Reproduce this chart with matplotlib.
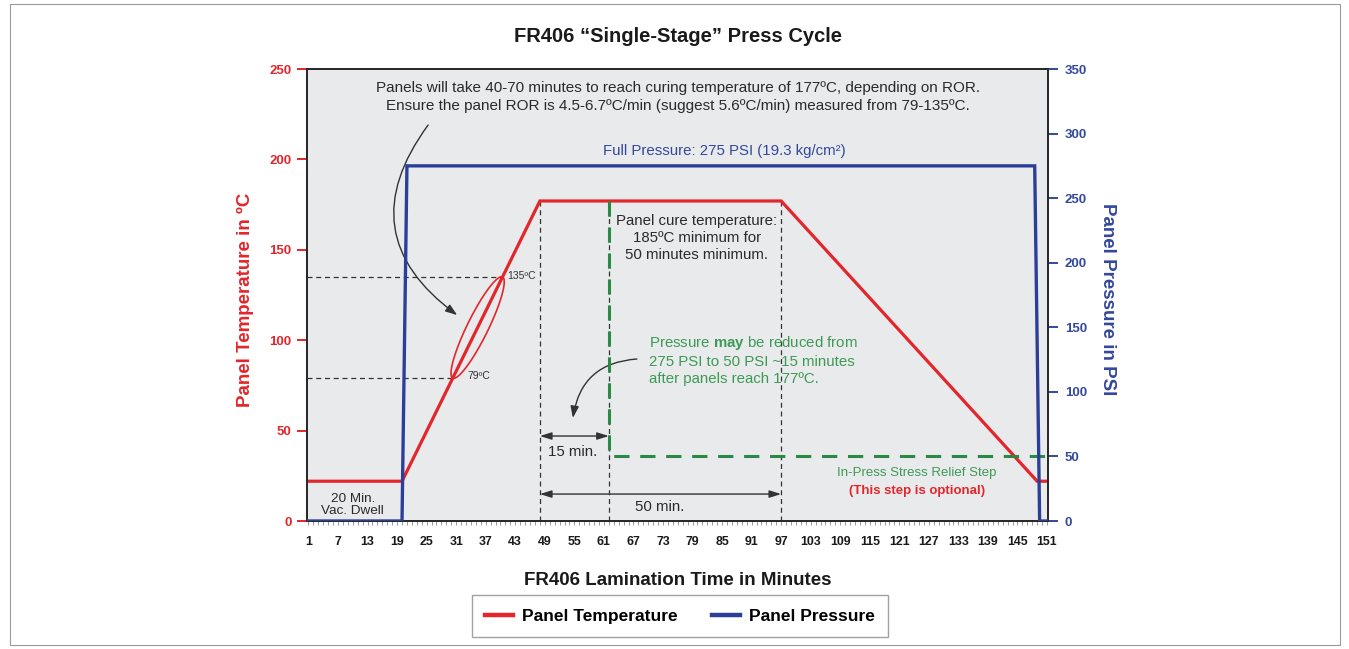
import numpy as np
import matplotlib
matplotlib.use("Agg")
import matplotlib.pyplot as plt
from matplotlib.patches import Rectangle
from matplotlib.lines import Line2D

plt.rcParams['font.family'] = ['Liberation Sans', 'DejaVu Sans']
plt.rcParams['mathtext.fontset'] = 'custom'
plt.rcParams['mathtext.rm'] = 'Liberation Sans'
plt.rcParams['mathtext.bf'] = 'Liberation Sans:bold'

# ---- data ----
temp_minutes = [1, 20, 48, 97, 149, 151]
temp_values = [22, 22, 177, 177, 22, 22]
press_minutes = [1, 20, 21, 148.5, 149.5, 151]
press_values = [0, 0, 275, 275, 0, 0]
reduced_minutes = [62, 62, 151]
reduced_values = [248, 50, 50]
xtick_values = list(range(1, 152, 6))
temp_ticks = [0, 50, 100, 150, 200, 250]
press_ticks = [0, 50, 100, 150, 200, 250, 300, 350]
ror_low, ror_high = 79, 135
cure_start, reduce_at, cure_end = 48, 62, 97

RED = '#e3262b'
BLUE = '#2b3f98'
BLUE_T = '#34489c'
GREEN = '#2a8a43'
GREEN_T = '#3d9a55'
DARK = '#333333'

fig = plt.figure(figsize=(13.49, 6.49), dpi=100)
fig.patches.append(Rectangle((10/1349, 4/649), 1330/1349, 641/649, transform=fig.transFigure,
                             fill=False, edgecolor='#9a9a9a', lw=0.8))
ax = fig.add_axes([307/1349, 1-521/649, 741/1349, 452/649])
ax.set_facecolor('#e9eaec')
ax2 = ax.twinx()

ax.set_xlim(0.7, 151.2)
ax.set_ylim(0, 250)
ax2.set_ylim(0, 350)

# temperature line
ax.plot(temp_minutes, temp_values, color=RED, lw=2.3, zorder=5, solid_joinstyle='miter')
# pressure line
ax2.plot(press_minutes, press_values, color=BLUE, lw=2.4, zorder=4, solid_joinstyle='miter')
# optional reduced pressure
ax2.plot(reduced_minutes, reduced_values, color=GREEN, lw=2.2, ls=(0, (5, 3.5)), zorder=3)

# helper dashed lines
def x_at(t):
    return temp_minutes[1] + (t - temp_values[1]) / (temp_values[2] - temp_values[1]) * (temp_minutes[2] - temp_minutes[1])

x_lo, x_hi = x_at(ror_low), x_at(ror_high)
dash = (0, (4, 3))
ax.plot([0.7, x_hi], [ror_high, ror_high], color=DARK, lw=0.9, ls=dash, zorder=2)
ax.plot([0.7, x_lo], [ror_low, ror_low], color=DARK, lw=0.9, ls=dash, zorder=2)
for xv in (cure_start, reduce_at, cure_end):
    ax.plot([xv, xv], [0, 177], color=DARK, lw=0.9, ls=dash, zorder=2)

# ellipse around ROR segment (built in display space)
p1 = ax.transData.transform((x_lo, ror_low))
p2 = ax.transData.transform((x_hi, ror_high))
c = (p1 + p2) / 2
u = (p2 - p1) / 2
v = np.array([u[1], -u[0]]) / np.hypot(*u) * 10.5
tt = np.linspace(0, 2*np.pi, 200)
pts = c + np.outer(np.cos(tt), u) + np.outer(np.sin(tt), v)
dpts = ax.transData.inverted().transform(pts)
ax.plot(dpts[:, 0], dpts[:, 1], color=RED, lw=1.2, zorder=6)

# texts
fs = 10.8
ax.text(76.0, 234.5, "Panels will take 40-70 minutes to reach curing temperature of 177ºC, depending on ROR.\n"
        "Ensure the panel ROR is 4.5-6.7ºC/min (suggest 5.6ºC/min) measured from 79-135ºC.",
        ha='center', va='center', fontsize=11, color='#2a2a2a', linespacing=1.3)
ax.text(85.4, 204.6, "Full Pressure: 275 PSI (19.3 kg/cm²)", ha='center', va='center', fontsize=fs, color=BLUE_T)
ax.text(79.9, 156.5, "Panel cure temperature:\n185ºC minimum for\n50 minutes minimum.",
        ha='center', va='center', fontsize=fs, color='#2a2a2a', linespacing=1.25)
ax.text(70.2, 89.0, "Pressure $\\mathbf{may}$ be reduced from\n275 PSI to 50 PSI ~15 minutes\nafter panels reach 177ºC.",
        ha='left', va='center', fontsize=fs, color=GREEN_T, linespacing=1.25)
ax.text(41.4, 135.5, "135ºC", ha='left', va='center', fontsize=7.5, color='#333333')
ax.text(33.3, 80.2, "79ºC", ha='left', va='center', fontsize=7.5, color='#333333')
ax.text(54.7, 38.2, "15 min.", ha='center', va='center', fontsize=fs, color='#2a2a2a')
ax.text(72.4, 7.7, "50 min.", ha='center', va='center', fontsize=fs, color='#2a2a2a')
ax.text(10.0, 8.8, "20 Min.\nVac. Dwell", ha='center', va='center', fontsize=9.7, color='#2a2a2a', linespacing=1.0)
ax.text(124.6, 26.5, "In-Press Stress Relief Step", ha='center', va='center', fontsize=9.5, color=GREEN_T)
ax.text(124.6, 16.6, "(This step is optional)", ha='center', va='center', fontsize=9.5, color=RED, fontweight='bold')

# arrows
aprops = dict(arrowstyle='<|-|>,head_length=0.7,head_width=0.22', color=DARK, lw=1.0, shrinkA=0, shrinkB=0)
ax.annotate('', xy=(cure_start, 47), xytext=(reduce_at, 47), arrowprops=aprops, zorder=6)
ax.annotate('', xy=(cure_start, 14.9), xytext=(cure_end, 14.9), arrowprops=aprops, zorder=6)
cprops = dict(arrowstyle='-|>,head_length=0.7,head_width=0.25', color=DARK, lw=1.0, shrinkA=0, shrinkB=0)
ax.annotate('', xy=(31.2, 113.9), xytext=(25.3, 219), arrowprops=dict(cprops, connectionstyle='arc3,rad=0.5'), zorder=6)
ax.annotate('', xy=(54.7, 57), xytext=(67.7, 89.6), arrowprops=dict(cprops, connectionstyle='arc3,rad=0.4'), zorder=6)

# axes styling
for a in (ax, ax2):
    for s in a.spines.values():
        s.set_color('#2a2a2a')
        s.set_linewidth(1.4)

ax.set_xticks(xtick_values)
ax.set_xticks(np.arange(1, 152, 1), minor=True)
ax.tick_params(axis='x', which='both', length=3, width=0.6, color='#888888', pad=8,
               labelsize=8.9, labelcolor='#1a1a1a')
for lab in ax.get_xticklabels():
    lab.set_fontweight('bold')

ax.set_yticks(temp_ticks)
ax.tick_params(axis='y', length=7, width=1.4, color=RED, labelcolor=RED, labelsize=9.5, pad=4)
for lab in ax.get_yticklabels():
    lab.set_fontweight('bold')
ax2.set_yticks(press_ticks)
ax2.tick_params(axis='y', length=7, width=1.4, color=BLUE_T, labelcolor=BLUE_T, labelsize=9.5, pad=5)
for lab in ax2.get_yticklabels():
    lab.set_fontweight('bold')

ax.set_ylabel("Panel Temperature in ºC", color=RED, fontsize=13.5, fontweight='bold')
ax.yaxis.set_label_coords(-0.071, 0.49)
ax2.set_ylabel("Panel Pressure in PSI", color=BLUE_T, fontsize=13.5, fontweight='bold', rotation=-90)
ax2.yaxis.set_label_coords(1.092, 0.49)
ax.set_xlabel("FR406 Lamination Time in Minutes", fontsize=13.5, fontweight='bold', color='#1a1a1a')
ax.xaxis.set_label_coords(0.5, -0.112)

fig.text(678/1349, 1-37/649, "FR406 “Single-Stage” Press Cycle", ha='center', va='center',
         fontsize=14.5, fontweight='bold', color='#1a1a1a')

handles = [Line2D([], [], color=RED, lw=3.2), Line2D([], [], color=BLUE, lw=3.2)]
leg = fig.legend(handles, ["Panel Temperature", "Panel Pressure"], loc='center',
                 bbox_to_anchor=(680/1349, 1-616/649), ncol=2, frameon=True, fancybox=False,
                 prop={'weight': 'bold', 'size': 12.5}, handlelength=1.6, columnspacing=2.0,
                 borderpad=0.75, handletextpad=0.5)
leg.get_frame().set_edgecolor('#8a8a8a')
leg.get_frame().set_linewidth(1.0)

fig.savefig('out.png', dpi=100)
